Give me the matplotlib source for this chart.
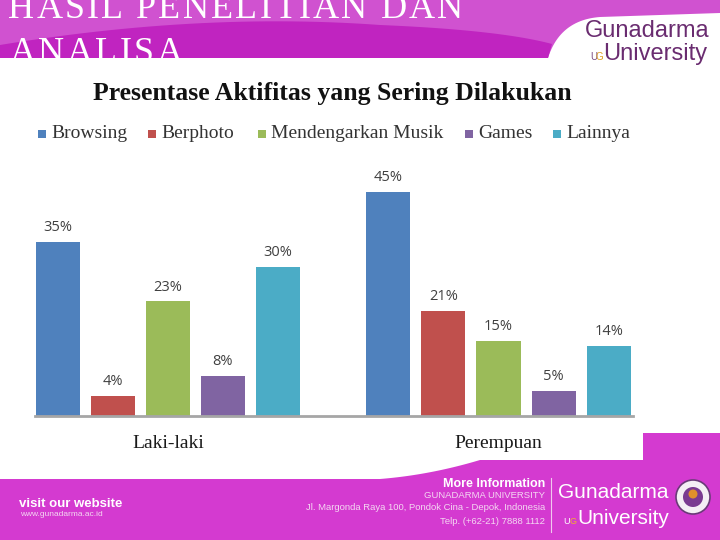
#!/usr/bin/env python3
import numpy as np
import matplotlib
matplotlib.use('Agg')
from matplotlib import pyplot as plt
from matplotlib.patches import Polygon, Circle, Rectangle
from matplotlib.font_manager import FontProperties
from matplotlib.textpath import TextToPath

# chart data
groups = ['Laki-laki', 'Perempuan']
series = ['Browsing', 'Berphoto', 'Mendengarkan Musik', 'Games', 'Lainnya']
colors = ['#4F81BD', '#C0504D', '#9BBB59', '#8064A2', '#4BACC6']
laki = [35, 4, 23, 8, 30]
perempuan = [45, 21, 15, 5, 14]
values = [laki, perempuan]

title = 'Presentase Aktifitas yang Sering Dilakukan'
slide_lines = ['HASIL PENELITIAN DAN', 'ANALISA']


def bez(p0, p1, p2, n=30):
  t = np.linspace(0, 1, n)[:, None]
  p0, p1, p2 = map(np.array, (p0, p1, p2))
  return list((1-t)**2*p0 + 2*(1-t)*t*p1 + t**2*p2)


def spaced_text(fig, x, y, s, track, **kw):
  # letter-spaced text, x/y in pixels from top-left
  fp = FontProperties(family=kw['family'], size=kw['fontsize'])
  ttp = TextToPath()
  for i, ch in enumerate(s):
    if ch == ' ':
      continue
    w = ttp.get_text_width_height_descent(s[:i], fp, ismath=False)[0]*100/72 if i else 0
    fig.text((x+w+i*track)/W, 1-y/H, ch, va='baseline', ha='left', **kw)


W, H = 720, 540
fig = plt.figure(figsize=(7.2, 5.4), dpi=100)
bg = fig.add_axes((0, 0, 1, 1))
bg.set_xlim(0, W)
bg.set_ylim(H, 0)
bg.axis('off')

# header band
head = [(0, 0), (720, 0), (720, 13)] + bez((600, 17), (560, 20), (548, 58)) + [(0, 58)]
bg.add_patch(Polygon(head, closed=True, fc='#d052d0', ec='none'))
swoosh = [(0, 45)] + bez((0, 45), (200, 12), (380, 25)) + bez((380, 25), (500, 30), (552, 44)) + [(548, 58), (0, 58)]
bg.add_patch(Polygon(swoosh, closed=True, fc='#c024c0', ec='none'))
for (x, y), s in zip([(8, 18), (10, 62)], slide_lines):
  spaced_text(fig, x, y, s, 2.3, color='white', family='Liberation Serif', fontsize=26)

# header logo
fig.text(585/W, 1-31/H, 'Gunadarma', color='#6a2c70', family='Liberation Sans', fontsize=17, va='center')
fig.text(590/W, 1-57/H, 'U', color='#7a4a80', family='Liberation Sans', fontsize=7, va='center')
fig.text(596/W, 1-57/H, 'G', color='#e0a020', family='Liberation Sans', fontsize=7, va='center')
fig.text(603/W, 1-54/H, 'University', color='#6a2c70', family='Liberation Sans', fontsize=17, va='center')

# footer band
foot = [(0, 479), (380, 479)] + bez((380, 479), (430, 475), (480, 460)) + [(643, 460), (643, 433), (720, 433), (720, 540), (0, 540)]
bg.add_patch(Polygon(foot, closed=True, fc='#d43ad0', ec='none'))
fig.text(19/W, 1-504/H, 'visit our website', color='white', family='Liberation Sans', fontsize=9.5,
         fontweight='bold', va='center')
fig.text(20/W, 1-515/H, 'www.gunadarma.ac.id', color='#f4d8f2', family='Liberation Sans', fontsize=6, va='center')
fig.text(545/W, 1-484/H, 'More Information', color='white', family='Liberation Sans', fontsize=9,
         fontweight='bold', va='center', ha='right')
for y, s in [(496, 'GUNADARMA UNIVERSITY'), (508, 'Jl. Margonda Raya 100, Pondok Cina - Depok, Indonesia'),
             (521, 'Telp. (+62-21) 7888 1112')]:
  fig.text(545/W, 1-y/H, s, color='#f4d8f2', family='Liberation Sans', fontsize=6.8, va='center', ha='right')
bg.plot([551, 551], [478, 532], color='#f0c8ee', lw=0.8)
fig.text(558/W, 1-492/H, 'Gunadarma', color='white', family='Liberation Sans', fontsize=15, va='center')
fig.text(563/W, 1-521/H, 'U', color='#ffffff', family='Liberation Sans', fontsize=6.5, va='center')
fig.text(569/W, 1-521/H, 'G', color='#f0b030', family='Liberation Sans', fontsize=6.5, va='center')
fig.text(577/W, 1-518/H, 'University', color='white', family='Liberation Sans', fontsize=15, va='center')
bg.add_patch(Circle((693, 497), 17, fc='#f4eef4', ec='#6a3a78', lw=1.2))
bg.add_patch(Circle((693, 497), 10, fc='#7a3a90', ec='none'))
bg.add_patch(Circle((693, 494), 4.5, fc='#e0902a', ec='none'))

# chart title and legend
fig.text(93/W, 1-93/H, title, family='Liberation Serif', fontweight='bold', fontsize=18.5,
         color='#111111', va='center', ha='left')
legx = [38, 148, 258, 465, 553]
for x, name, c in zip(legx, series, colors):
  bg.add_patch(Rectangle((x, 130), 8, 8, fc=c, ec='none'))
  fig.text((x+13)/W, 1-134/H, name, family='Liberation Serif', fontsize=14, color='#333333',
           va='center', ha='left')

# bars
ax = fig.add_axes((35/W, (H-416)/H, (633-35)/W, 236/H))
ax.patch.set_alpha(0)
ax.set_xlim(-0.41, 10.44)
ax.set_ylim(0, 47.4)
pos0 = np.arange(len(series))
for g, (gname, vals) in enumerate(zip(groups, values)):
  pos = pos0 + g*(len(series)+1)
  bars = ax.bar(pos, vals, width=0.8, color=colors)
  for b, v in zip(bars, vals):
    ax.annotate(f'{v}%', (b.get_x()+b.get_width()/2, v), xytext=(0, 5), textcoords='offset points',
                ha='center', va='bottom', fontsize=10.5, family='Open Sans', color='#404040')
  ax.annotate(gname, (pos[2], 0), xytext=(0, -20), textcoords='offset points', family='Liberation Serif',
              fontsize=14, color='#1a1a1a', ha='center', va='center', annotation_clip=False)
for s in ['top', 'right', 'left']:
  ax.spines[s].set_visible(False)
ax.spines['bottom'].set_color('#a6a6a6')
ax.spines['bottom'].set_linewidth(2)
ax.set_xticks([])
ax.set_yticks([])

fig.savefig('out.png', dpi=100)
